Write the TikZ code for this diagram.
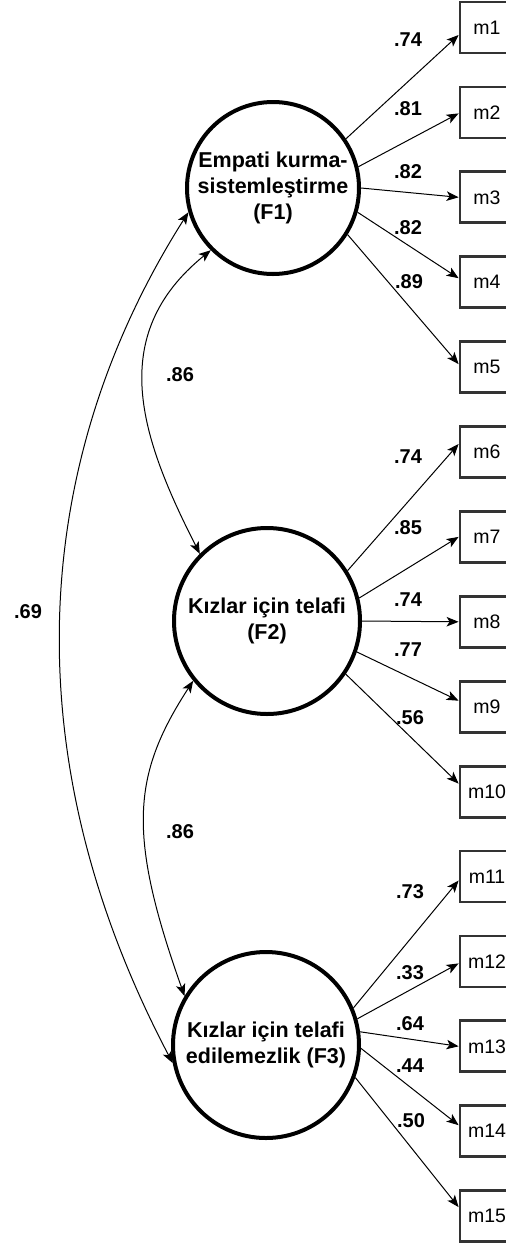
\documentclass[tikz,border=0pt]{standalone}
\usepackage{fontspec}
\setmainfont{Liberation Sans}
\usetikzlibrary{arrows.meta,calc}
\begin{document}
\begin{tikzpicture}[x=1pt,y=-1pt,
  lat/.style={circle,draw,line width=4pt,inner sep=0pt,align=center,font=\fontsize{21.5}{26}\selectfont\bfseries},
  obs/.style={rectangle,draw=black!80,line width=2.8pt,minimum width=54pt,minimum height=51pt,inner sep=0pt,font=\fontsize{19.5}{22}\selectfont},
  lab/.style={font=\fontsize{20}{22}\selectfont\bfseries,inner sep=0pt},
  tip/.tip={Stealth[length=12pt,width=9.5pt,inset=3pt]},
  ar/.style={line width=1pt,-tip},
  dar/.style={line width=1pt,tip-tip}]
\useasboundingbox (0,0) rectangle (506,1243);
\clip (0,0) rectangle (506,1243);
% latent factors
\node[lat,minimum size=172pt] (F1) at (273,188) {Empati kurma-\\sistemleştirme\\(F1)};
\node[lat,minimum size=186pt] (F2) at (267,621) {Kızlar için telafi\\(F2)};
\node[lat,minimum size=186pt] (F3) at (266,1045) {Kızlar için telafi\\edilemezlik (F3)};
% indicators
\foreach \i in {1,...,15}{
  \node[obs] (m\i) at (487,{27.5+84.9*(\i-1)}) {m\i};
}
% loadings F1
\draw[ar] (F1.34)  -- ($(m1.west)+(0,7.5)$);
\draw[ar] (F1.14)  -- ($(m2.west)+(0,1)$);
\draw[ar] (F1.0)   -- (m3.west);
\draw[ar] (F1.-16) -- ($(m4.west)+(0,-4)$);
\draw[ar] (F1.-32) -- ($(m5.west)+(0,-3)$);
% loadings F2
\draw[ar] (F2.32)  -- ($(m6.west)+(0,-8)$);
\draw[ar] (F2.14.5) -- (m7.west);
\draw[ar] (F2.0)   -- (m8.west);
\draw[ar] (F2.-19.6) -- ($(m9.west)+(0,-6)$);
\draw[ar] (F2.-34.7) -- ($(m10.west)+(0,-8)$);
% loadings F3
\draw[ar] (F3.23)  -- ($(m11.west)+(0,4)$);
\draw[ar] (F3.16)  -- ($(m12.west)+(0,2)$);
\draw[ar] (F3.8)   -- (m13.west);
\draw[ar] (F3.-2)  -- ($(m14.west)+(0,-6)$);
\draw[ar] (F3.-20) -- ($(m15.west)+(0,-9)$);
% correlations
\draw[dar] (F1.225) .. controls (105,336) and (141,438) .. (F2.135);
\draw[dar] (F2.219) .. controls (132,775) and (127,834) .. (F3.149);
\draw[dar] (F1.196) .. controls (35,454) and (7,748) .. (F3.191);
% labels
\node[lab] (c12) at (180,375) {.86};
\node[lab] (c23) at (180,832) {.86};
\node[lab] (c13) at (28,612) {.69};
\node[lab] (l1) at (408,40) {.74};
\node[lab] (l2) at (408,109) {.81};
\node[lab] (l3) at (408,172) {.82};
\node[lab] (l4) at (408,228) {.82};
\node[lab] (l5) at (409,282) {.89};
\node[lab] (l6) at (408,457) {.74};
\node[lab] (l7) at (408,528) {.85};
\node[lab] (l8) at (408,600) {.74};
\node[lab] (l9) at (408,650) {.77};
\node[lab] (l10) at (410,718) {.56};
\node[lab] (l11) at (410,892) {.73};
\node[lab] (l12) at (410,973) {.33};
\node[lab] (l13) at (410,1024) {.64};
\node[lab] (l14) at (410,1066) {.44};
\node[lab] (l15) at (411,1121) {.50};
\end{tikzpicture}
\end{document}
